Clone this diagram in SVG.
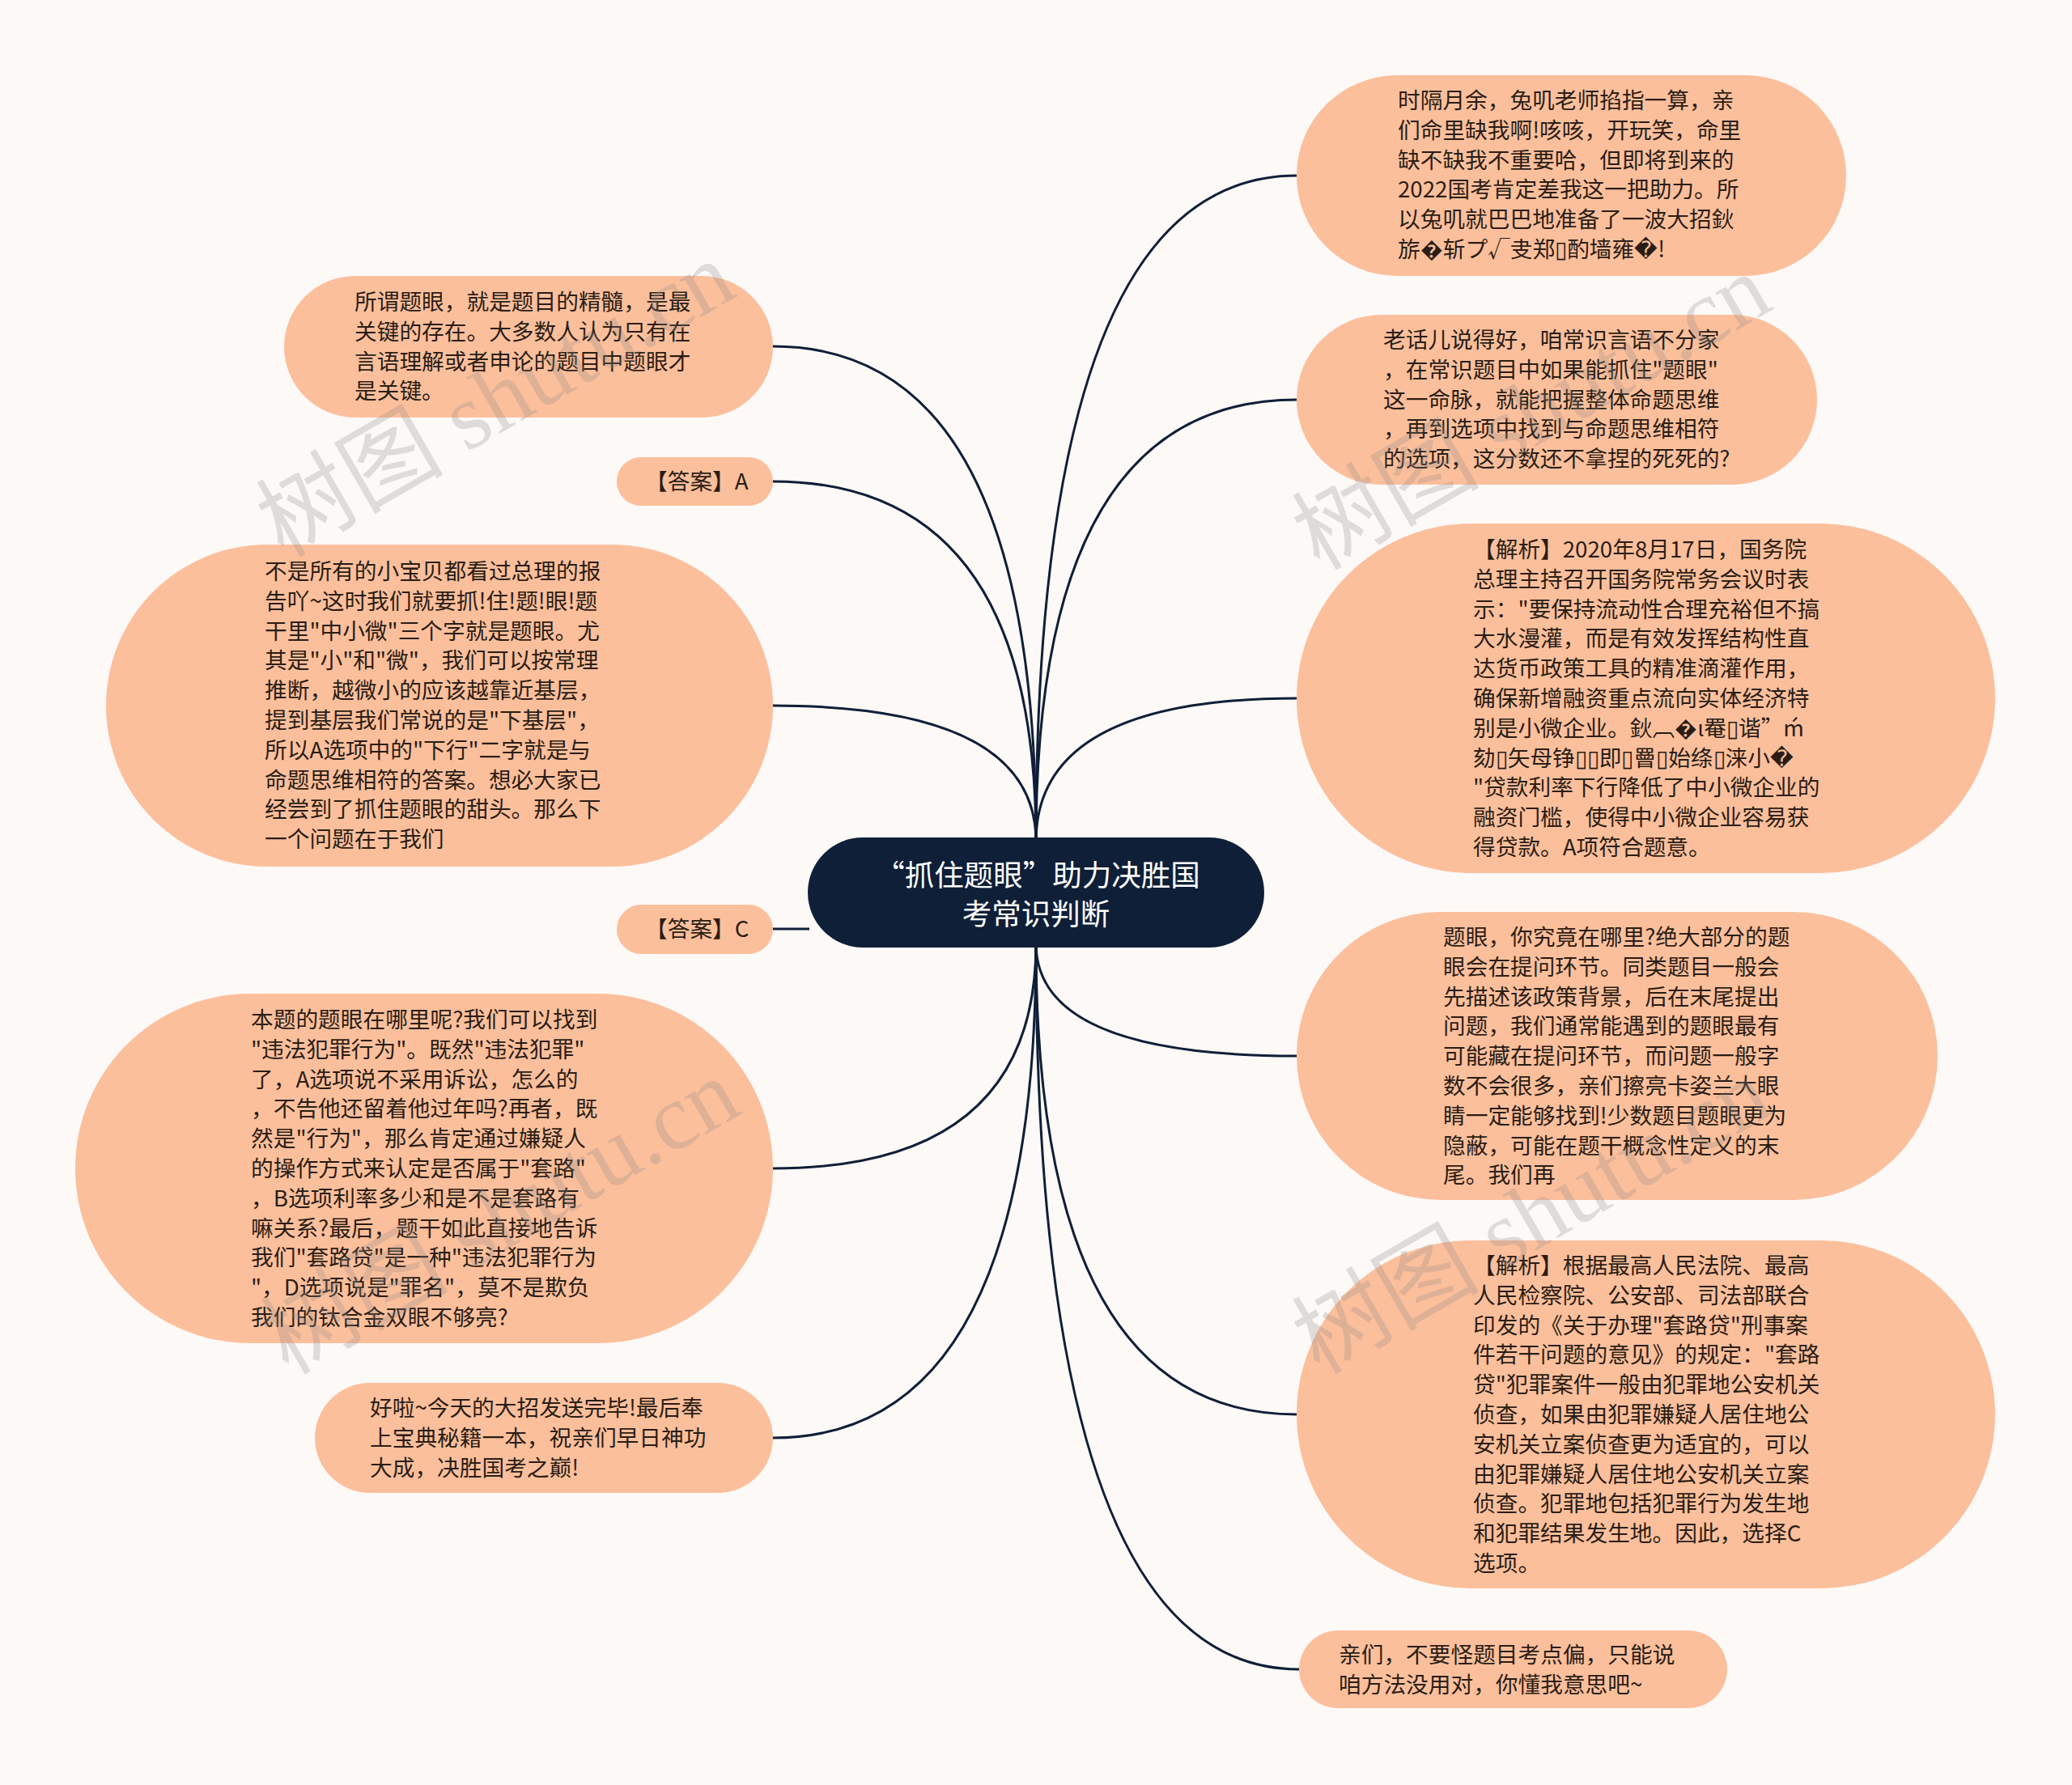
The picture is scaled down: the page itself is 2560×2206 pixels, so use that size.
<svg xmlns="http://www.w3.org/2000/svg" width="2560" height="2206" viewBox="0 0 2560 2206">
<style>
.bg{fill:#fdf9f7}
.node{fill:#fcbf9c}
.root{fill:#0f1f38}
.t{font-family:"Noto Sans CJK SC","Liberation Sans",sans-serif;font-size:27.7px;fill:#2a1d14}
.rt{font-family:"Noto Sans CJK SC","Liberation Sans",sans-serif;font-size:36.5px;fill:#ffffff;text-anchor:middle}
.link{fill:none;stroke:#0f1f38;stroke-width:3}
.wm{font-family:"Liberation Serif","Noto Sans CJK SC",serif;font-size:116px;fill:#8a8a8a;opacity:0.26}
</style>
<rect class="bg" x="0" y="0" width="2560" height="2206"/>
<g id="connectors">
<path class="link" d="M1280 1040 Q1280 217 1602 217"/>
<path class="link" d="M1280 1040 Q1280 494 1602 494"/>
<path class="link" d="M1280 1040 Q1280 863 1602 863"/>
<path class="link" d="M1280 1166 Q1280 1305 1602 1305"/>
<path class="link" d="M1280 1166 Q1280 1748 1602 1748"/>
<path class="link" d="M1280 1166 Q1280 2063 1605 2063"/>
<path class="link" d="M1280 1040 Q1280 428 955 428"/>
<path class="link" d="M1280 1040 Q1280 595 955 595"/>
<path class="link" d="M1280 1040 Q1280 872 955 872"/>
<path class="link" d="M1000 1148 L955 1148"/>
<path class="link" d="M1280 1166 Q1280 1444 955 1444"/>
<path class="link" d="M1280 1166 Q1280 1777 955 1777"/>
</g>
<g id="root">
<rect class="root" x="998" y="1035" width="564" height="136" rx="68"/>
<text class="rt" x="1282" y="1095">“抓住题眼”助力决胜国</text>
<text class="rt" x="1280" y="1143">考常识判断</text>
</g>
<g id="r1">
<rect class="node" x="1602" y="93" width="679" height="248" rx="124"/>
<text class="t" x="1727" y="134"><tspan x="1727">时隔月余，兔叽老师掐指一算，亲</tspan><tspan x="1727" dy="36.8">们命里缺我啊!咳咳，开玩笑，命里</tspan><tspan x="1727" dy="36.8">缺不缺我不重要哈，但即将到来的</tspan><tspan x="1727" dy="36.8">2022国考肯定差我这一把助力。所</tspan><tspan x="1727" dy="36.8">以兔叽就巴巴地准备了一波大招鈥</tspan><tspan x="1727" dy="36.8">旂�斩プ√叏郑▯酌墙雍�!</tspan></text>
</g>
<g id="r2">
<rect class="node" x="1602" y="389" width="643" height="210" rx="105"/>
<text class="t" x="1709" y="430"><tspan x="1709">老话儿说得好，咱常识言语不分家</tspan><tspan x="1709" dy="36.8">，在常识题目中如果能抓住"题眼"</tspan><tspan x="1709" dy="36.8">这一命脉，就能把握整体命题思维</tspan><tspan x="1709" dy="36.8">，再到选项中找到与命题思维相符</tspan><tspan x="1709" dy="36.8">的选项，这分数还不拿捏的死死的?</tspan></text>
</g>
<g id="r3">
<rect class="node" x="1602" y="647" width="863" height="432" rx="216"/>
<text class="t" x="1820" y="689"><tspan x="1820">【解析】2020年8月17日，国务院</tspan><tspan x="1820" dy="36.8">总理主持召开国务院常务会议时表</tspan><tspan x="1820" dy="36.8">示："要保持流动性合理充裕但不搞</tspan><tspan x="1820" dy="36.8">大水漫灌，而是有效发挥结构性直</tspan><tspan x="1820" dy="36.8">达货币政策工具的精准滴灌作用，</tspan><tspan x="1820" dy="36.8">确保新增融资重点流向实体经济特</tspan><tspan x="1820" dy="36.8">别是小微企业。鈥︹�ι罨▯谐”ḿ</tspan><tspan x="1820" dy="36.8">劾▯矢母铮▯▯即▯罾▯始绦▯涞小�</tspan><tspan x="1820" dy="36.8">"贷款利率下行降低了中小微企业的</tspan><tspan x="1820" dy="36.8">融资门槛，使得中小微企业容易获</tspan><tspan x="1820" dy="36.8">得贷款。A项符合题意。</tspan></text>
</g>
<g id="r4">
<rect class="node" x="1602" y="1127" width="792" height="356" rx="178"/>
<text class="t" x="1783" y="1168"><tspan x="1783">题眼，你究竟在哪里?绝大部分的题</tspan><tspan x="1783" dy="36.8">眼会在提问环节。同类题目一般会</tspan><tspan x="1783" dy="36.8">先描述该政策背景，后在末尾提出</tspan><tspan x="1783" dy="36.8">问题，我们通常能遇到的题眼最有</tspan><tspan x="1783" dy="36.8">可能藏在提问环节，而问题一般字</tspan><tspan x="1783" dy="36.8">数不会很多，亲们擦亮卡姿兰大眼</tspan><tspan x="1783" dy="36.8">睛一定能够找到!少数题目题眼更为</tspan><tspan x="1783" dy="36.8">隐蔽，可能在题干概念性定义的末</tspan><tspan x="1783" dy="36.8">尾。我们再</tspan></text>
</g>
<g id="r5">
<rect class="node" x="1602" y="1533" width="863" height="430" rx="215"/>
<text class="t" x="1820" y="1574"><tspan x="1820">【解析】根据最高人民法院、最高</tspan><tspan x="1820" dy="36.8">人民检察院、公安部、司法部联合</tspan><tspan x="1820" dy="36.8">印发的《关于办理"套路贷"刑事案</tspan><tspan x="1820" dy="36.8">件若干问题的意见》的规定："套路</tspan><tspan x="1820" dy="36.8">贷"犯罪案件一般由犯罪地公安机关</tspan><tspan x="1820" dy="36.8">侦查，如果由犯罪嫌疑人居住地公</tspan><tspan x="1820" dy="36.8">安机关立案侦查更为适宜的，可以</tspan><tspan x="1820" dy="36.8">由犯罪嫌疑人居住地公安机关立案</tspan><tspan x="1820" dy="36.8">侦查。犯罪地包括犯罪行为发生地</tspan><tspan x="1820" dy="36.8">和犯罪结果发生地。因此，选择C</tspan><tspan x="1820" dy="36.8">选项。</tspan></text>
</g>
<g id="r6">
<rect class="node" x="1605" y="2015" width="529" height="96" rx="48"/>
<text class="t" x="1654" y="2055"><tspan x="1654">亲们，不要怪题目考点偏，只能说</tspan><tspan x="1654" dy="36.8">咱方法没用对，你懂我意思吧~</tspan></text>
</g>
<g id="l1">
<rect class="node" x="351" y="341" width="604" height="175" rx="87.5"/>
<text class="t" x="438" y="383"><tspan x="438">所谓题眼，就是题目的精髓，是最</tspan><tspan x="438" dy="36.8">关键的存在。大多数人认为只有在</tspan><tspan x="438" dy="36.8">言语理解或者申论的题目中题眼才</tspan><tspan x="438" dy="36.8">是关键。</tspan></text>
</g>
<g id="l2">
<rect class="node" x="762" y="565" width="193" height="60" rx="30"/>
<text class="t" x="797" y="605">【答案】A</text>
</g>
<g id="l3">
<rect class="node" x="131" y="673" width="824" height="398" rx="199"/>
<text class="t" x="327" y="716"><tspan x="327">不是所有的小宝贝都看过总理的报</tspan><tspan x="327" dy="36.8">告吖~这时我们就要抓!住!题!眼!题</tspan><tspan x="327" dy="36.8">干里"中小微"三个字就是题眼。尤</tspan><tspan x="327" dy="36.8">其是"小"和"微"，我们可以按常理</tspan><tspan x="327" dy="36.8">推断，越微小的应该越靠近基层，</tspan><tspan x="327" dy="36.8">提到基层我们常说的是"下基层"，</tspan><tspan x="327" dy="36.8">所以A选项中的"下行"二字就是与</tspan><tspan x="327" dy="36.8">命题思维相符的答案。想必大家已</tspan><tspan x="327" dy="36.8">经尝到了抓住题眼的甜头。那么下</tspan><tspan x="327" dy="36.8">一个问题在于我们</tspan></text>
</g>
<g id="l4">
<rect class="node" x="762" y="1118" width="193" height="61" rx="30.5"/>
<text class="t" x="797" y="1158">【答案】C</text>
</g>
<g id="l5">
<rect class="node" x="93" y="1228" width="862" height="432" rx="216"/>
<text class="t" x="310" y="1270"><tspan x="310">本题的题眼在哪里呢?我们可以找到</tspan><tspan x="310" dy="36.8">"违法犯罪行为"。既然"违法犯罪"</tspan><tspan x="310" dy="36.8">了，A选项说不采用诉讼，怎么的</tspan><tspan x="310" dy="36.8">，不告他还留着他过年吗?再者，既</tspan><tspan x="310" dy="36.8">然是"行为"，那么肯定通过嫌疑人</tspan><tspan x="310" dy="36.8">的操作方式来认定是否属于"套路"</tspan><tspan x="310" dy="36.8">，B选项利率多少和是不是套路有</tspan><tspan x="310" dy="36.8">嘛关系?最后，题干如此直接地告诉</tspan><tspan x="310" dy="36.8">我们"套路贷"是一种"违法犯罪行为</tspan><tspan x="310" dy="36.8">"，D选项说是"罪名"，莫不是欺负</tspan><tspan x="310" dy="36.8">我们的钛合金双眼不够亮?</tspan></text>
</g>
<g id="l6">
<rect class="node" x="389" y="1709" width="566" height="136" rx="68"/>
<text class="t" x="457" y="1750"><tspan x="457">好啦~今天的大招发送完毕!最后奉</tspan><tspan x="457" dy="36.8">上宝典秘籍一本，祝亲们早日神功</tspan><tspan x="457" dy="36.8">大成，决胜国考之巅!</tspan></text>
</g>
<g id="watermarks">
<text class="wm" transform="translate(350 690) rotate(-30)">树图 shutu.cn</text>
<text class="wm" transform="translate(1630 706) rotate(-30)">树图 shutu.cn</text>
<text class="wm" transform="translate(356 1700) rotate(-30)">树图 shutu.cn</text>
<text class="wm" transform="translate(1630 1700) rotate(-30)">树图 shutu.cn</text>
</g>
</svg>
